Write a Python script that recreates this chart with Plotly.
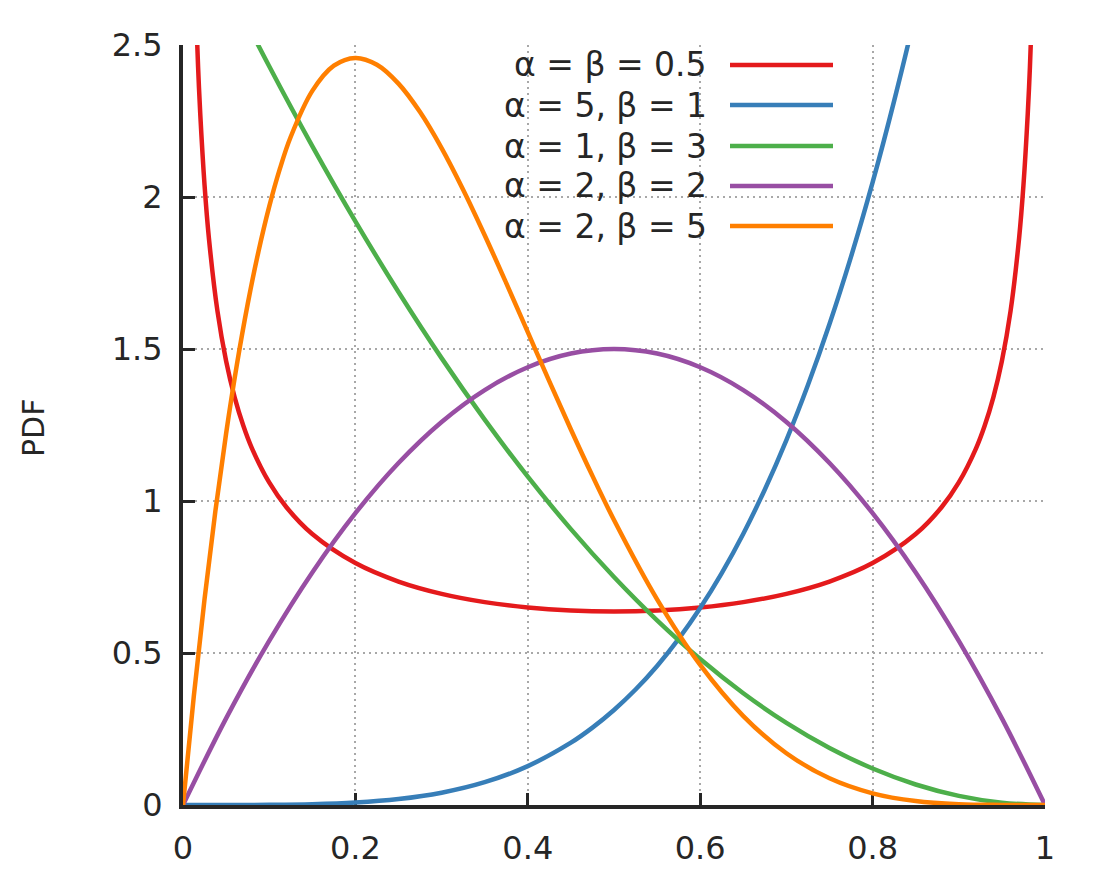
import plotly.graph_objects as go

# ---- data ----
x_red = [0.01, 0.0125, 0.015, 0.0175, 0.02, 0.025, 0.03, 0.04, 0.05, 0.06, 0.07, 0.08, 0.1, 0.12, 0.15,
         0.2, 0.25, 0.3, 0.35, 0.4, 0.45, 0.5, 0.55, 0.6, 0.65, 0.7, 0.75, 0.8, 0.85, 0.88, 0.9, 0.92,
         0.93, 0.94, 0.95, 0.96, 0.97, 0.975, 0.98, 0.9825, 0.985, 0.9875, 0.99]
y_red = [3.199, 2.865, 2.619, 2.4275, 2.274, 2.0388, 1.866, 1.624, 1.4605, 1.3403, 1.2476, 1.1733, 1.0610,
         0.9795, 0.8914, 0.7958, 0.7351, 0.6946, 0.6674, 0.6497, 0.6398, 0.6366, 0.6398, 0.6497, 0.6674,
         0.6946, 0.7351, 0.7958, 0.8914, 0.9795, 1.0610, 1.1733, 1.2476, 1.3403, 1.4605, 1.624, 1.866,
         2.0388, 2.274, 2.4275, 2.619, 2.865, 3.199]

x_blue = [0, 0.05, 0.1, 0.15, 0.2, 0.25, 0.3, 0.35, 0.4, 0.45, 0.475, 0.5, 0.525, 0.55, 0.575, 0.6, 0.625,
          0.65, 0.675, 0.7, 0.725, 0.75, 0.775, 0.8, 0.825, 0.85, 0.9]
y_blue = [0, 0.00003, 0.0005, 0.00253, 0.008, 0.0195, 0.0405, 0.075, 0.128, 0.205, 0.2545, 0.3125, 0.3798,
          0.4575, 0.5466, 0.648, 0.7629, 0.8925, 1.038, 1.2005, 1.3814, 1.582, 1.8038, 2.048, 2.3163, 2.61,
          3.2805]

x_green = [0, 0.05, 0.1, 0.15, 0.2, 0.25, 0.3, 0.35, 0.4, 0.45, 0.5, 0.55, 0.6, 0.65, 0.7, 0.75, 0.8, 0.85,
           0.9, 0.95, 1.0]
y_green = [3.0, 2.7075, 2.43, 2.1675, 1.92, 1.6875, 1.47, 1.2675, 1.08, 0.9075, 0.75, 0.6075, 0.48, 0.3675,
           0.27, 0.1875, 0.12, 0.0675, 0.03, 0.0075, 0.0]

x_purple = [0, 0.05, 0.1, 0.15, 0.2, 0.25, 0.3, 0.35, 0.4, 0.45, 0.5, 0.55, 0.6, 0.65, 0.7, 0.75, 0.8, 0.85,
            0.9, 0.95, 1.0]
y_purple = [0, 0.285, 0.54, 0.765, 0.96, 1.125, 1.26, 1.365, 1.44, 1.485, 1.5, 1.485, 1.44, 1.365, 1.26,
            1.125, 0.96, 0.765, 0.54, 0.285, 0]

x_orange = [0, 0.0125, 0.025, 0.0375, 0.05, 0.0625, 0.075, 0.0875, 0.1, 0.1125, 0.125, 0.15, 0.175, 0.2,
            0.225, 0.25, 0.275, 0.3, 0.325, 0.35, 0.375, 0.4, 0.425, 0.45, 0.475, 0.5, 0.55, 0.6, 0.65, 0.7,
            0.75, 0.8, 0.85, 0.9, 0.95, 1.0]
y_orange = [0, 0.3566, 0.6778, 0.9655, 1.2218, 1.4484, 1.6472, 1.82, 1.9683, 2.0939, 2.1982, 2.349, 2.4321,
            2.4576, 2.4351, 2.373, 2.2793, 2.1609, 2.024, 1.8743, 1.7166, 1.5552, 1.3937, 1.2353, 1.0826,
            0.9375, 0.6766, 0.4608, 0.2926, 0.1701, 0.0879, 0.0384, 0.0129, 0.0027, 0.0002, 0]

series_names = ["α = β = 0.5", "α = 5, β = 1", "α = 1, β = 3", "α = 2, β = 2", "α = 2, β = 5"]
series_colors = ["#e41a1c", "#377eb8", "#4daf4a", "#984ea3", "#ff7f00"]
x_ticks = [0, 0.2, 0.4, 0.6, 0.8, 1]
x_tick_text = ["0", "0.2", "0.4", "0.6", "0.8", "1"]
y_ticks = [0, 0.5, 1, 1.5, 2, 2.5]
y_tick_text = ["0", "0.5", "1", "1.5", "2", "2.5"]

xs = [x_red, x_blue, x_green, x_purple, x_orange]
ys = [y_red, y_blue, y_green, y_purple, y_orange]

# page body has an 8px margin; plot area in page pixels: x 183..1045, y 45..805
OFF = 8
W, H = 1098, 877
L, T = 183 - OFF, 45 - OFF
R = W - (1045 - OFF)
B = H - (805 - OFF)
FONT = "DejaVu Sans"
TXT = "#262626"

fig = go.Figure()
for xv, yv, nm, col in zip(xs, ys, series_names, series_colors):
    fig.add_trace(go.Scatter(x=xv, y=yv, mode="lines", name=nm,
                             line=dict(color=col, width=4.5, shape="spline", smoothing=1.0),
                             showlegend=False))

axis_common = dict(showline=True, linecolor="#262626", linewidth=4, ticks="inside", ticklen=12,
                   tickwidth=3, tickcolor="#262626", showgrid=True, gridcolor="#a8a8a8", gridwidth=1.6,
                   griddash="2px,4px", zeroline=False, layer="below traces",
                   tickfont=dict(family=FONT, size=32, color=TXT))
fig.update_xaxes(range=[0, 1], tickvals=x_ticks, ticktext=x_tick_text, ticklabelstandoff=12, **axis_common)
fig.update_yaxes(range=[0, 2.5], tickvals=y_ticks, ticktext=y_tick_text, ticklabelstandoff=10, **axis_common)

pw, ph = W - L - R, H - T - B
def px(xp):  # page pixel -> paper x
    return (xp - OFF - L) / pw
def py(yp):  # page pixel -> paper y
    return (H - B - (yp - OFF)) / ph

# legend background box
fig.add_shape(type="rect", xref="paper", yref="paper", x0=px(494), x1=px(848), y0=py(246), y1=py(48),
              fillcolor="white", line=dict(width=0), layer="between")

row_y = [65, 105, 146, 186, 226]
for nm, col, ry in zip(series_names, series_colors, row_y):
    fig.add_annotation(xref="paper", yref="paper", x=px(709), y=py(ry), text=nm, showarrow=False,
                       xanchor="right", yanchor="middle", font=dict(family=FONT, size=33, color=TXT))
    fig.add_shape(type="line", xref="paper", yref="paper", x0=px(730), x1=px(833), y0=py(ry), y1=py(ry),
                  line=dict(color=col, width=4.5))

fig.add_annotation(xref="paper", yref="paper", x=px(33), y=py(428), text="PDF", textangle=-90,
                   showarrow=False, xanchor="center", yanchor="middle",
                   font=dict(family=FONT, size=30, color=TXT))

fig.update_layout(width=W, height=H, margin=dict(l=L, r=R, t=T, b=B),
                  plot_bgcolor="white", paper_bgcolor="white", showlegend=False)

fig.write_html("out.html")
